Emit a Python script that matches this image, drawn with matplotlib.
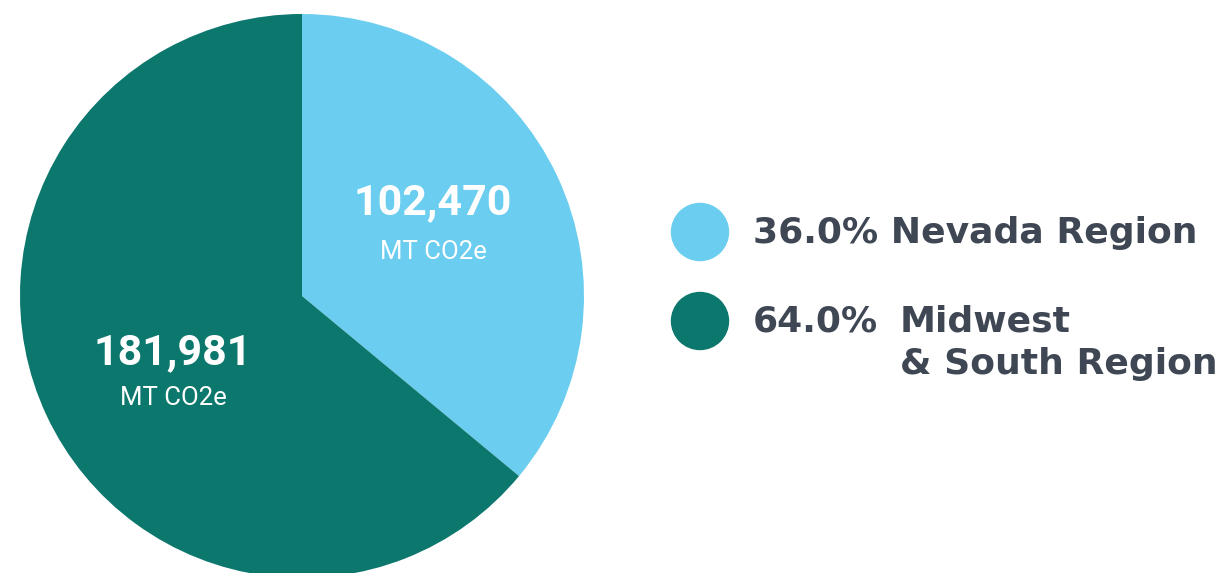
import matplotlib
matplotlib.use('Agg')
import matplotlib.pyplot as plt
from matplotlib.patches import Ellipse

# data
regions = ['Nevada Region', 'Midwest\n& South Region']
values = [102470, 181981]
shares = [36.0, 64.0]
colors = ['#6BCDEF', '#0C776C']
text_col = '#3E4753'

fig = plt.figure(figsize=(12.26, 5.73), dpi=100)

# pie: centre (302, 296) px, radius 282 px
W, H = 1226., 573.
cx, cy, r = 302., 296., 282.
ax = fig.add_axes([(cx - r) / W, (H - cy - r) / H, 2 * r / W, 2 * r / H])
ax.pie(values, colors=colors, startangle=90, counterclock=False, radius=1,
       wedgeprops=dict(linewidth=0))
ax.set_xlim(-1, 1)
ax.set_ylim(-1, 1)
ax.set_aspect('equal')
ax.axis('off')

num_font = ['Roboto', 'DejaVu Sans']

def px(x, y):
    return x / W, 1 - y / H

# value labels
label_pos = [(433, 203, 252), (173, 353, 398)]
for v, (x, y1, y2) in zip(values, label_pos):
    fig.text(*px(x, y1), '{:,}'.format(v), ha='center', va='center',
             color='white', fontsize=31, fontweight='bold', family=num_font)
    fig.text(*px(x, y2), 'MT CO2e', ha='center', va='center',
             color='white', fontsize=18.5, family=num_font)

# legend
leg_font = ['DejaVu Sans']
circ_y = [232, 321]
for c, y in zip(colors, circ_y):
    fig.patches.append(Ellipse((700 / W, 1 - y / H), 57 / W, 57 / H, color=c,
                               transform=fig.transFigure, figure=fig))
fs = 26
fig.text(*px(753, 233), '%.1f%% %s' % (shares[0], regions[0]), ha='left', va='center',
         color=text_col, fontsize=fs, fontweight='bold', family=leg_font)
fig.text(*px(753, 321), '%.1f%%' % shares[1], ha='left', va='center',
         color=text_col, fontsize=fs, fontweight='bold', family=leg_font)
fig.text(*px(900, 321), regions[1].split('\n')[0], ha='left', va='center',
         color=text_col, fontsize=fs, fontweight='bold', family=leg_font)
fig.text(*px(900, 364), regions[1].split('\n')[1], ha='left', va='center',
         color=text_col, fontsize=fs, fontweight='bold', family=leg_font)

fig.savefig('out.png', dpi=100)
